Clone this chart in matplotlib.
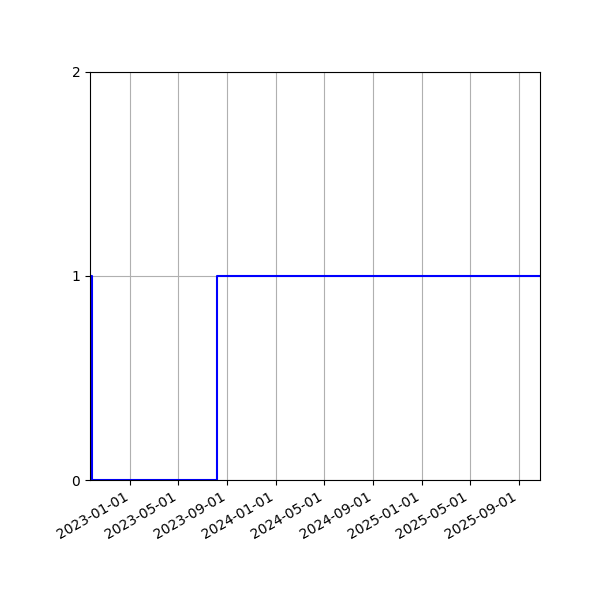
import matplotlib
matplotlib.use("Agg")
import matplotlib.pyplot as plt
import matplotlib.dates as mdates
import numpy as np

dates = np.array(["2022-09-22", "2022-09-28", "2023-08-05", "2025-10-23"], dtype="datetime64[D]")
values = [1, 0, 1, 1]
tick_dates = np.array(["2023-01-01", "2023-05-01", "2023-09-01", "2024-01-01", "2024-05-01",
                       "2024-09-01", "2025-01-01", "2025-05-01", "2025-09-01"], dtype="datetime64[D]")

fig = plt.figure(figsize=(6, 6), dpi=100)
ax = fig.add_axes([0.15, 0.2, 0.75, 0.68])
ax.step(dates, values, where="post", color="blue", linewidth=1.5)
ax.set_xlim(dates[0], dates[-1])
ax.set_ylim(0, 2)
ax.set_yticks([0, 1, 2])
ax.set_xticks(tick_dates)
ax.xaxis.set_major_formatter(mdates.DateFormatter("%Y-%m-%d"))
ax.grid(True)
for lbl in ax.get_xticklabels():
    lbl.set_rotation(30)
    lbl.set_ha("right")
fig.savefig("out.png", dpi=100)
